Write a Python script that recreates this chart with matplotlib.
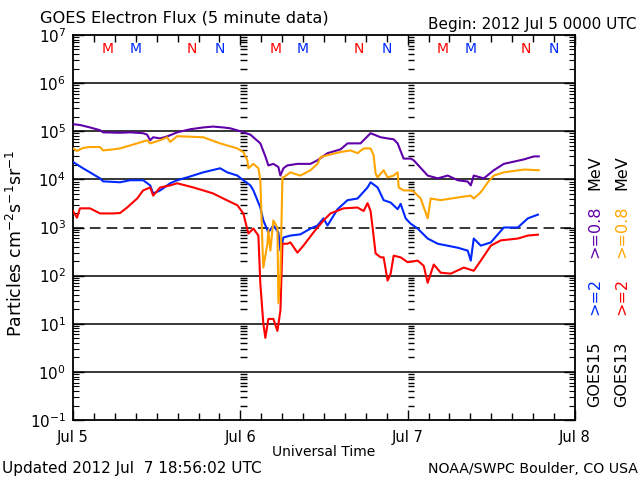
import matplotlib
matplotlib.use('Agg')
import matplotlib.pyplot as plt
from matplotlib.ticker import FixedLocator, LogLocator, NullFormatter, MultipleLocator

# ---- data (hours since 2012 Jul 5 00:00 UTC, flux) ----
g15_08_t = [0, 1.0, 2.44, 3.88, 4.31, 6.75, 8.19, 10.06, 10.63, 11.07, 11.5, 12.5, 13.5, 14.95,
            16.81, 18.68, 20.1, 21.56, 22.56, 24.0, 24.43, 25.44, 26.87, 27.59, 28.02, 28.74,
            29.46, 29.75, 30.18, 30.75, 32.19, 34.06, 35.07, 36.5, 38.37, 39.38, 41.24, 42.68,
            44.12, 45.12, 45.99, 46.56, 47.42, 48.43, 48.86, 50.87, 52.31, 53.75, 55.18, 56.62,
            57.05, 57.48, 58.92, 60.36, 61.79, 64.67, 66.1, 66.8]
g15_08_v = [1.4e5, 1.35e5, 1.2e5, 1.05e5, 9.5e4, 9.3e4, 9.5e4, 9.1e4, 8.5e4, 6.5e4, 7.5e4, 7.1e4,
            7.8e4, 9.5e4, 1.1e5, 1.2e5, 1.25e5, 1.2e5, 1.15e5, 1.0e5, 9.5e4, 8.5e4, 5.6e4, 3.0e4,
            1.95e4, 2.1e4, 1.8e4, 1.2e4, 1.7e4, 1.95e4, 2.1e4, 2.1e4, 2.5e4, 3.5e4, 4.2e4, 5.6e4,
            5.6e4, 9.1e4, 7.5e4, 7.1e4, 6.8e4, 5.6e4, 2.7e4, 2.7e4, 2.5e4, 1.2e4, 1.05e4, 1.2e4,
            9.6e3, 9.0e3, 7.5e3, 1.2e4, 1.05e4, 1.55e4, 2.1e4, 2.6e4, 3.0e4, 3.0e4]

g13_08_t = [0, 0.57, 1.44, 2.44, 3.88, 4.31, 5.75, 6.75, 9.2, 10.63, 11.07, 12.5, 13.5, 13.94,
            14.95, 18.68, 21.1, 23.57, 24.43, 25.0, 25.15, 25.87, 26.59, 26.87, 27.16, 27.3,
            27.88, 28.02, 28.31, 28.74, 29.32, 29.46, 29.75, 30.04, 30.18, 31.18, 32.19, 32.62,
            34.06, 35.07, 35.5, 36.93, 38.37, 39.81, 40.81, 41.68, 42.68, 43.11, 43.4, 43.69,
            44.55, 45.12, 45.99, 46.56, 46.71, 47.42, 48.43, 48.86, 49.87, 50.87, 51.3, 52.74,
            55.18, 57.05, 57.48, 58.49, 59.5, 60.36, 61.79, 64.67, 66.8]
g13_08_v = [4.4e4, 3.9e4, 4.5e4, 4.7e4, 4.7e4, 4.0e4, 4.2e4, 4.4e4, 5.6e4, 6.5e4, 5.6e4, 6.5e4,
            7.5e4, 6.0e4, 7.9e4, 7.5e4, 5.6e4, 4.4e4, 3.7e4, 2.5e4, 1.7e4, 2.1e4, 1.7e4, 9.6e3,
            4.6e2, 1.47e2, 4.6e2, 8.7e2, 3.3e2, 1.4e3, 1.0e3, 27, 1.1e2, 1.1e4, 1.1e4, 1.4e4,
            1.25e4, 1.2e4, 1.55e4, 2.1e4, 2.9e4, 3.3e4, 3.7e4, 4.0e4, 3.5e4, 4.4e4, 4.4e4, 3.2e4,
            1.33e4, 1.1e4, 1.55e4, 1.1e4, 1.2e4, 1.4e4, 6.8e3, 5.9e3, 5.9e3, 5.6e3, 4.0e3, 1.55e3,
            4.0e3, 3.7e3, 4.2e3, 4.6e3, 4.0e3, 5.4e3, 8.7e3, 1.2e4, 1.4e4, 1.6e4, 1.55e4]

g15_2_t = [0, 1.44, 3.88, 4.31, 6.75, 8.19, 10.06, 11.07, 11.5, 12.5, 13.94, 14.95, 16.38, 18.68,
           21.1, 22.13, 23.57, 24.43, 25.44, 25.87, 26.87, 27.3, 28.02, 28.74, 29.46, 29.75,
           30.18, 31.18, 32.62, 34.06, 35.07, 35.93, 36.5, 37.94, 39.38, 40.81, 42.25, 42.68,
           43.69, 44.55, 45.56, 46.56, 46.99, 47.71, 48.43, 49.44, 50.87, 52.31, 55.18, 56.62,
           57.05, 57.48, 58.49, 59.93, 61.79, 63.8, 65.24, 66.68]
g15_2_v = [2.3e4, 1.7e4, 1.05e4, 9.1e3, 8.7e3, 9.6e3, 9.6e3, 7.5e3, 5.1e3, 5.9e3, 8.3e3, 9.6e3,
           1.1e4, 1.4e4, 1.7e4, 1.4e4, 1.2e4, 9.6e3, 7.5e3, 5.9e3, 2.6e3, 1.4e3, 7.9e2, 1.1e3,
           7.9e2, 3.3e2, 6.2e2, 6.8e2, 7.2e2, 9.5e2, 1.1e3, 1.55e3, 1.1e3, 2.4e3, 3.7e3, 4.0e3,
           6.8e3, 8.7e3, 6.8e3, 3.7e3, 3.3e3, 2.4e3, 3.1e3, 1.55e3, 1.2e3, 9.5e2, 5.9e2, 4.6e2,
           3.8e2, 3.3e2, 2.05e2, 5.9e2, 4.2e2, 4.9e2, 1.0e3, 1.0e3, 1.55e3, 1.85e3]

g13_2_t = [0, 0.57, 1.0, 2.44, 3.88, 5.75, 6.75, 7.76, 9.2, 10.06, 11.07, 11.5, 12.5, 13.94,
           14.95, 17.25, 18.68, 20.1, 21.56, 23.57, 24.43, 25.15, 25.87, 26.59, 26.87, 27.3,
           27.59, 28.02, 28.74, 29.32, 29.75, 30.04, 30.75, 31.18, 32.19, 33.05, 34.49, 35.93,
           36.93, 38.8, 40.81, 41.68, 42.25, 42.68, 42.97, 43.4, 44.12, 44.55, 45.12, 45.56,
           45.99, 46.99, 48.0, 49.44, 50.3, 50.87, 51.74, 52.74, 54.18, 56.05, 57.48, 58.49,
           59.93, 61.36, 63.8, 65.24, 66.68]
g13_2_v = [2.2e3, 1.6e3, 2.5e3, 2.5e3, 1.96e3, 1.96e3, 2.0e3, 2.6e3, 4.0e3, 5.9e3, 6.8e3, 4.6e3,
           6.8e3, 7.5e3, 8.3e3, 6.8e3, 5.9e3, 5.1e3, 4.0e3, 2.9e3, 1.96e3, 7.5e2, 9.5e2, 6.8e2,
           68, 10, 5.1, 12.6, 12.6, 7.1, 19, 4.6e2, 4.6e2, 4.9e2, 3.0e2, 4.2e2, 7.9e2, 1.4e3,
           1.96e3, 2.5e3, 2.6e3, 2.2e3, 3.2e3, 2.2e3, 1.0e3, 2.9e2, 2.4e2, 2.4e2, 79, 1.1e2,
           2.6e2, 2.4e2, 1.9e2, 2.05e2, 1.6e2, 71, 1.7e2, 1.15e2, 1.1e2, 1.47e2, 1.26e2, 2.05e2,
           4.2e2, 5.4e2, 5.9e2, 6.8e2, 7.1e2]

day_ticks = [0, 24, 48, 72]
day_labels = ['Jul 5', 'Jul 6', 'Jul 7', 'Jul 8']
decades = [-1, 0, 1, 2, 3, 4, 5, 6, 7]
g13_midnight = [5, 29, 53]
g13_noon = [17, 41, 65]
g15_midnight = [9, 33, 57]
g15_noon = [21, 45, 69]

C_PURPLE = '#6000a8'
C_ORANGE = '#ffa500'
C_BLUE = '#0028ff'
C_RED = '#ff0000'

plt.rcParams['font.family'] = ['DejaVu Sans']
fig = plt.figure(figsize=(6.4, 4.8), dpi=100)
ax = fig.add_axes([73 / 640, 60 / 480, 502 / 640, 385 / 480])
ax.set_yscale('log')
ax.set_xlim(0, 72)
ax.set_ylim(10.0 ** decades[0], 10.0 ** decades[-1])

# reference lines
for d in decades[1:-1]:
    v = 10.0 ** d
    if d == 3:
        ax.axhline(v, color='black', lw=1.1, ls=(0, (7, 4)), zorder=1)
    else:
        ax.axhline(v, color='black', lw=1.1, zorder=1)

# day boundary minor-tick columns
for xd in day_ticks[1:-1]:
    for d in decades[:-1]:
        for m in range(2, 10):
            ax.hlines(m * 10.0 ** d, xd, xd + 0.9, color='black', lw=1.0, zorder=1)

lw = 1.5
ax.plot(g15_08_t, g15_08_v, color=C_PURPLE, lw=lw, zorder=3)
ax.plot(g15_2_t, g15_2_v, color=C_BLUE, lw=lw, zorder=3)
ax.plot(g13_2_t, g13_2_v, color=C_RED, lw=lw, zorder=4)
ax.plot(g13_08_t, g13_08_v, color=C_ORANGE, lw=lw, zorder=4)

# M / N markers
trans = ax.get_xaxis_transform()
for xs, lab, col in [(g13_midnight, 'M', C_RED), (g15_midnight, 'M', C_BLUE),
                     (g13_noon, 'N', C_RED), (g15_noon, 'N', C_BLUE)]:
    for x in xs:
        ax.text(x, 0.963, lab, color=col, transform=trans, ha='center', va='center',
                fontsize=10)

# ticks
ax.yaxis.set_major_locator(FixedLocator([10.0 ** d for d in decades]))
ax.set_yticklabels([r'$10^{%d}$' % d for d in decades])
ax.yaxis.set_minor_locator(LogLocator(base=10, subs=range(2, 10), numticks=50))
ax.yaxis.set_minor_formatter(NullFormatter())
ax.xaxis.set_major_locator(FixedLocator(day_ticks))
ax.set_xticklabels(day_labels)
ax.xaxis.set_minor_locator(MultipleLocator(3))
ax.tick_params(which='both', direction='in', top=True, right=True, colors='black',
               labelsize=10.5)
ax.tick_params(axis='y', which='major', length=8, width=1.0, pad=5, labelsize=11)
ax.tick_params(axis='y', which='minor', length=4, width=0.8)
ax.tick_params(axis='x', which='major', length=7, width=1.0, pad=7)
ax.tick_params(axis='x', which='minor', length=5, width=1.0)
for s in ax.spines.values():
    s.set_linewidth(1.3)

ax.set_xlabel('Universal Time', fontsize=10, labelpad=0)
fig.text(0.025, 0.494, r'Particles cm$^{-2}$s$^{-1}$sr$^{-1}$', rotation=90,
         ha='center', va='center', fontsize=12.5)

fig.text(40 / 640, 1 - 18 / 480, 'GOES Electron Flux (5 minute data)', ha='left',
         va='center', fontsize=11.7)
fig.text(637 / 640, 1 - 24 / 480, 'Begin: 2012 Jul 5 0000 UTC', ha='right',
         va='center', fontsize=11)
fig.text(2 / 640, 1 - 469 / 480, 'Updated 2012 Jul  7 18:56:02 UTC', ha='left',
         va='center', fontsize=11)
fig.text(638 / 640, 1 - 469 / 480, 'NOAA/SWPC Boulder, CO USA', ha='right',
         va='center', fontsize=10.2)

# right side legend columns
cols = [(595, [('GOES15', 'black', 407), ('>=2', C_BLUE, 315),
               ('>=0.8', C_PURPLE, 258), ('MeV', 'black', 190)]),
        (622, [('GOES13', 'black', 407), ('>=2', C_RED, 315),
               ('>=0.8', C_ORANGE, 258), ('MeV', 'black', 190)])]
for xp, items in cols:
    for txt, col, yp in items:
        fig.text(xp / 640, 1 - yp / 480, txt, color=col, rotation=90, ha='center',
                 va='bottom', fontsize=11.5)

fig.savefig('out.png', dpi=100)
